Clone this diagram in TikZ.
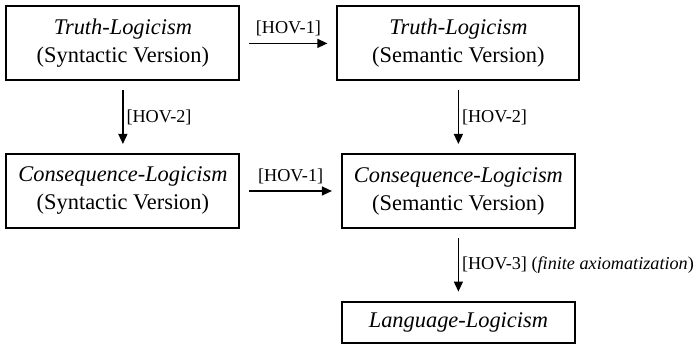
\documentclass[tikz,border=0pt]{standalone}
\usepackage{fontspec}
\setmainfont{Liberation Serif}
\usepackage{tikz}
\usetikzlibrary{matrix}
\usetikzlibrary{arrows.meta}

\begin{document}
\begin{tikzpicture}[
            logbox/.style={draw=black, line width=1pt, align=center, minimum width=116.5pt, minimum height=37pt, inner sep=2pt, font=\fontsize{11.2}{14}\selectfont},
            widebox/.style={logbox, minimum width=121pt},
            lowbox/.style={logbox, minimum height=20.5pt},
            hov/.style={-{Triangle[length=5pt,width=4.5pt]}, line width=0.6pt, shorten <=4.5pt, shorten >=4.5pt},
            hovlabel/.style={font=\fontsize{9.1}{11}\selectfont}
        ]
        \useasboundingbox (0,0) rectangle (348.5pt,-173pt);
        \matrix (m) [row sep=35.8pt, column sep=48pt, inner sep=0pt, anchor=north west, at={(2.5pt,-2.5pt)},
                    nodes = {anchor=center}] {
                    \node[logbox] (tsyn) {\textit{Truth-Logicism}\\(Syntactic Version)}; &
                    \node[widebox] (tsem) {\textit{Truth-Logicism}\\(Semantic Version)}; \\
                    \node[logbox] (csyn) {\textit{Consequence-Logicism}\\(Syntactic Version)}; &
                    \node[logbox] (csem) {\textit{Consequence-Logicism}\\(Semantic Version)}; \\
                    & \node[lowbox] (lang) {\textit{Language-Logicism}}; \\
        };
        \draw[hov] (tsyn) -- node[above, hovlabel] (h1a) {[HOV-1]} (tsem);
        \draw[hov] (csyn) -- node[above, hovlabel] (h1b) {[HOV-1]} (csem);
        \draw[hov] (tsyn) -- node[right, hovlabel, inner sep=1.5pt] (h2a) {[HOV-2]} (csyn);
        \draw[hov] (tsem) -- node[right, hovlabel, inner sep=1.5pt] (h2b) {[HOV-2]} (csem);
        \draw[hov] (csem) -- node[right, hovlabel, inner sep=1.5pt] (h3) {[HOV-3] (\textit{finite axiomatization})} (lang);
\end{tikzpicture}
\end{document}
